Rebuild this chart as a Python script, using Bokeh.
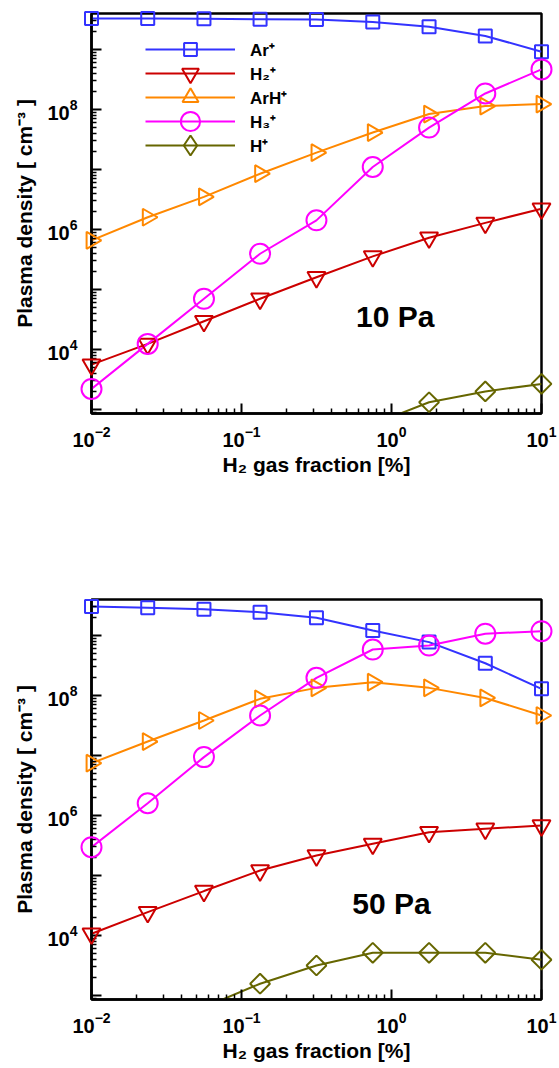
import math
from bokeh.plotting import figure
from bokeh.layouts import column
from bokeh.models import FixedTicker, Legend, LegendItem, Label
from bokeh.embed import file_html
from bokeh.resources import INLINE

# ---------------- data ----------------
x_frac = [0.01, 0.0237, 0.0562, 0.133, 0.316, 0.75, 1.78, 4.22, 10.0]

# 10 Pa
ar_10 = [3.3e9, 3.3e9, 3.25e9, 3.2e9, 3.15e9, 2.87e9, 2.4e9, 1.68e9, 9.2e8]
h2_10 = [5.6e3, 1.24e4, 2.96e4, 7.0e4, 1.6e5, 3.56e5, 7.3e5, 1.29e6, 2.22e6]
arh_10 = [6.6e5, 1.6e6, 3.5e6, 8.5e6, 1.91e7, 4.13e7, 8.4e7, 1.14e8, 1.23e8]
h3_10 = [2.2e3, 1.24e4, 7.0e4, 3.94e5, 1.42e6, 1.1e7, 5.0e7, 1.85e8, 4.66e8]
hp_10 = [float("nan"), float("nan"), float("nan"), float("nan"), float("nan"),
         5.65e2, 1.32e3, 2.0e3, 2.67e3]

# 50 Pa
ar_50 = [3.04e9, 2.9e9, 2.75e9, 2.45e9, 1.97e9, 1.21e9, 7.76e8, 3.45e8, 1.29e8]
h2_50 = [1.07e4, 2.45e4, 5.5e4, 1.21e5, 2.15e5, 3.37e5, 5.27e5, 6.0e5, 6.8e5]
arh_50 = [7.45e6, 1.71e7, 3.83e7, 8.8e7, 1.34e8, 1.67e8, 1.34e8, 9.1e7, 4.64e7]
h3_50 = [2.96e5, 1.6e6, 9.4e6, 4.64e7, 1.97e8, 5.84e8, 6.8e8, 1.07e9, 1.18e9]
hp_50 = [float("nan"), float("nan"), 6.36e2, 1.57e3, 3.16e3, 5.15e3, 5.15e3, 5.15e3, 3.94e3]

series_names = ["Ar\u207A", "H\u2082\u207A", "ArH\u207A", "H\u2083\u207A", "H\u207A"]
x_tick_values = [0.01, 0.1, 1.0, 10.0]
y_tick_values = [1e3, 1e4, 1e5, 1e6, 1e7, 1e8, 1e9]
y_labelled = [1e4, 1e6, 1e8]
panel_labels = ["10 Pa", "50 Pa"]

# ---------------- styling ----------------
X_MIN, X_MAX = 0.01, 10.0
Y_MIN, Y_MAX = 10 ** 2.933, 10 ** 9.6
FONT = "Liberation Sans"
FRAME_H = 400
styles = [
    dict(color="#3333FF", marker="square", size=13, angle=0.0, leg_marker=None, leg_h=32, leg_c=49),
    dict(color="#CC0000", marker="inverted_triangle", size=18, angle=0.0, leg_marker=None, leg_h=42, leg_c=73),
    dict(color="#FF8800", marker="triangle", size=17, angle=-math.pi / 2, leg_marker=None, leg_h=40, leg_c=97),
    dict(color="#FF00FF", marker="circle", size=20, angle=0.0, leg_marker=None, leg_h=48, leg_c=121),
    dict(color="#666600", marker="square", size=14, angle=math.pi / 4, leg_marker="diamond", leg_h=50, leg_c=145),
]
LEG_X = 54

x_minor = [k * 10 ** e for e in range(-2, 1) for k in range(2, 10)]
y_minor = [k * 10 ** e for e in range(2, 10) for k in range(2, 10)]
NAN = float("nan")


def make_fig(height, border_bottom, datasets, label_pos, label_text, with_legend):
    p = figure(width=559, height=height, x_axis_type="log", y_axis_type="log",
               x_range=(X_MIN, X_MAX), y_range=(Y_MIN, Y_MAX),
               output_backend="svg", toolbar_location=None,
               min_border_left=91, min_border_right=18, min_border_top=13,
               min_border_bottom=border_bottom)
    p.grid.visible = False
    p.outline_line_color = "black"
    p.outline_line_width = 2.5
    p.outline_line_alpha = 1.0

    p.xaxis.ticker = FixedTicker(ticks=x_tick_values, minor_ticks=x_minor)
    p.yaxis.ticker = FixedTicker(ticks=y_tick_values, minor_ticks=y_minor)
    p.yaxis.major_label_overrides = {v: "" for v in y_tick_values if v not in y_labelled}

    for ax in (p.xaxis[0], p.yaxis[0]):
        ax.axis_line_width = 2.5
        ax.axis_line_color = "black"
        ax.major_tick_in = 10
        ax.major_tick_out = 0
        ax.minor_tick_in = 5
        ax.minor_tick_out = 0
        ax.major_tick_line_width = 2
        ax.minor_tick_line_width = 1.5
        ax.major_label_text_font = FONT
        ax.major_label_text_font_style = "bold"
        ax.major_label_text_font_size = "20px"
        ax.major_label_text_color = "black"
        ax.axis_label_text_font = FONT
        ax.axis_label_text_font_style = "bold"
        ax.axis_label_text_font_size = "21px"
        ax.axis_label_text_color = "black"
    p.xaxis.major_label_standoff = 12
    p.yaxis.major_label_standoff = 14
    p.xaxis.axis_label_standoff = 3
    p.yaxis.axis_label_standoff = 8
    p.xaxis.axis_label = "H\u2082 gas fraction [%]"
    p.yaxis.axis_label = "Plasma density [ cm\u207B\u00B3 ]"

    for name, ys, st in zip(series_names, datasets, styles):
        r_line = p.line(x_frac, ys, line_color=st["color"], line_width=2)
        ys_vis = [v if (v == v and Y_MIN <= v <= Y_MAX) else NAN for v in ys]
        r_sc = p.scatter(x_frac, ys_vis, marker=st["marker"], size=st["size"],
                         angle=st["angle"], line_color=st["color"], line_width=2,
                         fill_color=None)
        r_sc.level = "overlay"
        if with_legend:
            leg_renderers = [r_line, r_sc]
            if st["leg_marker"] is not None:
                # legend-only sample glyph (a single NaN point, never drawn in the plot)
                r_leg = p.scatter([NAN], [NAN], marker=st["leg_marker"], size=st["size"],
                                  line_color=st["color"], line_width=2, fill_color=None)
                leg_renderers = [r_line, r_leg]
            gh = st["leg_h"]
            loc_y = (FRAME_H + 13 - st["leg_c"]) - gh / 2
            legend = Legend(items=[LegendItem(label=name, renderers=leg_renderers)],
                            location=(LEG_X, loc_y), glyph_width=90,
                            glyph_height=gh, label_height=20, spacing=0,
                            label_standoff=15, padding=0, margin=0,
                            border_line_color=None, background_fill_alpha=0,
                            label_text_font=FONT, label_text_font_style="bold",
                            label_text_font_size="17px", label_text_color="black")
            p.add_layout(legend)

    p.add_layout(Label(x=label_pos[0], y=label_pos[1], text=label_text,
                       text_align="center", text_baseline="middle",
                       text_font=FONT, text_font_style="bold",
                       text_font_size="30px", text_color="black"))
    return p


p1 = make_fig(586, 173, [ar_10, h2_10, arh_10, h3_10, hp_10], (1.06, 3.5e4),
              panel_labels[0], True)
p2 = make_fig(482, 69, [ar_50, h2_50, arh_50, h3_50, hp_50], (1.0, 3.4e4),
              panel_labels[1], False)

layout = column(p1, p2, spacing=0)
open("out.html", "w").write(file_html(layout, INLINE))
